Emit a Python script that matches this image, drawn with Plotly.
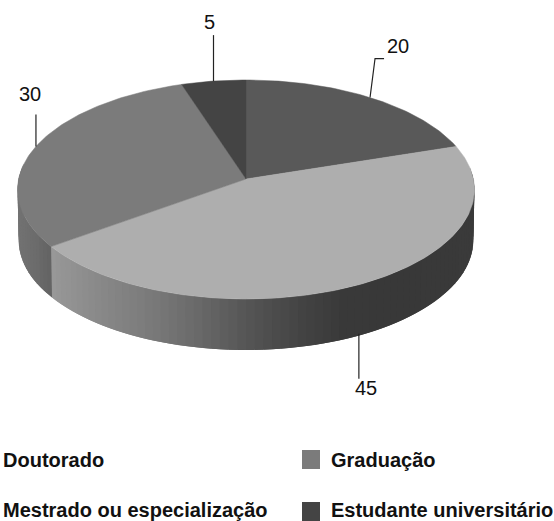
import math
import plotly.graph_objects as go

categories = ["Doutorado", "Mestrado ou especialização", "Graduação", "Estudante universitário"]
values = [20, 45, 30, 5]
top_colors = ["#595959", "#aeaeae", "#7b7b7b", "#444444"]
value_labels = ["20", "45", "30", "5"]

CX, CY, R, DEPTH = 246.0, 179.0, 227.4, 51.0
PERSP, TILT = 0.0959, -91.33
FONT = "Liberation Sans, Arial, sans-serif"


def project(theta_deg, drop=0.0, scale=1.0):
    t = math.radians(theta_deg)
    u, v = math.sin(t), math.cos(t)
    w = 1 + PERSP * v
    return CX + scale * R * u / w, (TILT * v + CY) / w + drop


def lerp_color(stops, x):
    stops = sorted(stops)
    if x <= stops[0][0]:
        g = stops[0][1]
    elif x >= stops[-1][0]:
        g = stops[-1][1]
    else:
        for (a, ga), (b, gb) in zip(stops, stops[1:]):
            if a <= x <= b:
                g = ga + (gb - ga) * (x - a) / (b - a)
                break
    g = int(round(g))
    return f"rgb({g},{g},{g})"


total = sum(values)
bounds = [0.0]
for val in values:
    bounds.append(bounds[-1] + 360.0 * val / total)

fig = go.Figure()


def poly(xs, ys, color):
    fig.add_trace(go.Scatter(x=xs, y=ys, mode="lines", fill="toself", fillcolor=color,
                             line=dict(color=color, width=0), hoverinfo="skip", showlegend=False))


# side wall of the disc, drawn as narrow shaded strips (each overlaps the next to hide seams)
rim_mestrado = [(52, 152), (100, 136), (150, 122), (200, 104), (250, 84), (300, 68), (345, 57), (400, 56), (480, 58)]
rim_graduacao = [(18, 114), (35, 108), (52, 98)]
STEP = 2.0
theta = 84.0
while theta < 276.0:
    nxt = theta + STEP
    far = nxt + STEP
    x0, y0 = project(theta)
    x1, y1 = project(far)
    x2, y2 = project(far, DEPTH, 0.995)
    x3, y3 = project(theta, DEPTH, 0.995)
    xm, _ = project(theta + STEP / 2)
    stops = rim_mestrado if (theta + STEP / 2) < bounds[2] else rim_graduacao
    poly([x0, x1, x2, x3, x0], [y0, y1, y2, y3, y0], lerp_color(stops, xm))
    theta = nxt

# top faces
for i, cat in enumerate(categories):
    a, b = bounds[i], bounds[i + 1]
    n = max(4, int(b - a))
    pts = [project(a + (b - a) * k / n) for k in range(n + 1)]
    xs = [CX] + [p[0] for p in pts] + [CX]
    ys = [CY] + [p[1] for p in pts] + [CY]
    fig.add_trace(go.Scatter(x=xs, y=ys, mode="lines", fill="toself", fillcolor=top_colors[i],
                             line=dict(color=top_colors[i], width=0.5), name=cat,
                             hoverinfo="name", showlegend=False))

# leader lines, starting from the middle of each slice's outer edge
leader_ends = {
    "5": [(0, -46)],
    "20": [(5, -39), (14, -39)],
    "30": [(0, -32)],
    "45": [(0, 45)],
}
label_offsets = {"5": (-4, -59), "20": (28, -52), "30": (-5.5, -52), "45": (7, 54)}
for i, lab in enumerate(value_labels):
    mid = (bounds[i] + bounds[i + 1]) / 2
    drop = DEPTH - 2 if lab == "45" else 0
    ax, ay = project(mid, drop)
    pts = leader_ends[lab]
    fig.add_trace(go.Scatter(x=[ax] + [ax + p[0] for p in pts], y=[ay] + [ay + p[1] for p in pts],
                             mode="lines", line=dict(color="#222222", width=1.2),
                             hoverinfo="skip", showlegend=False))
    ox, oy = label_offsets[lab]
    fig.add_annotation(x=ax + ox, y=ay + oy, text=lab, showarrow=False,
                       font=dict(family=FONT, size=20, color="#111111"))

# legend: the left column shows no swatch in the picture
legend_cells = [(1, 460, None), (1, 510, None), (329, 460, 2), (329, 510, 3)]
order = [0, 1, 2, 3]
for idx, (lx, ly, sw) in zip(order, legend_cells):
    fig.add_annotation(x=lx, y=ly, text=f"<b>{categories[idx]}</b>", showarrow=False, xanchor="left",
                       font=dict(family=FONT, size=20, color="#111111"))
    if sw is not None:
        fig.add_shape(type="rect", x0=302, x1=320, y0=450 if ly < 500 else 502, y1=469 if ly < 500 else 521,
                      fillcolor=top_colors[sw], line=dict(width=0))

fig.update_xaxes(range=[0, 554], visible=False, fixedrange=True)
fig.update_yaxes(range=[521, 0], visible=False, fixedrange=True)
fig.update_layout(width=554, height=521, margin=dict(l=0, r=0, t=0, b=0),
                  paper_bgcolor="white", plot_bgcolor="white", showlegend=False)
fig.write_html("out.html", config={"displayModeBar": False},
               post_script="document.body.style.margin='0';")
